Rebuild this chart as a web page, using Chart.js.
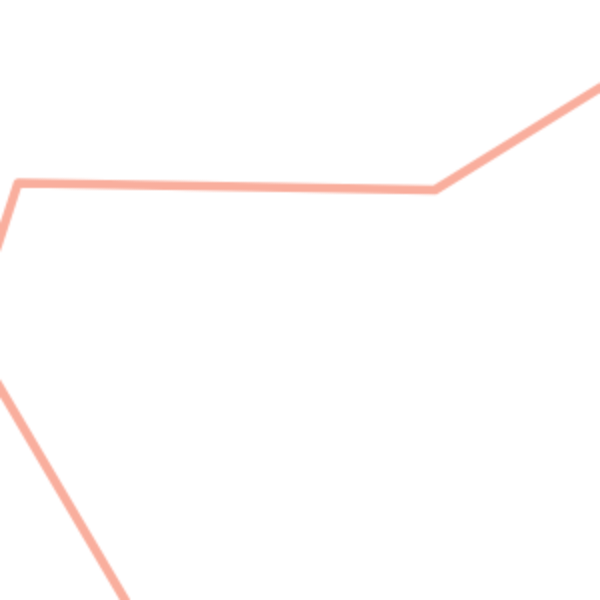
<!DOCTYPE html>
<html>
<head>
<meta charset="utf-8">
<script src="https://cdn.jsdelivr.net/npm/chart.js@4"></script>
<style>
  html, body { margin: 0; padding: 0; background: #fff; }
  #wrap { width: 600px; height: 600px; }
</style>
</head>
<body>
<div id="wrap"><canvas id="myChart" width="600" height="600"></canvas></div>
<script>
// x / y values of the line (the view only shows part of it)
const xValues = [14.5, 12.5, -3.16, 1.8, 43.5, 65.0];
const yValues = [-3.4, 0.0, 26.56, 41.7, 41.0, 54.3];

// visible window of the chart
const xRange = [0, 60];
const yRange = [0, 60];

function createLineChart() {
    const ctx = document.getElementById('myChart');
    const points = xValues.map((x, i) => ({ x: x, y: yValues[i] }));

    new Chart(ctx, {
        type: 'line',
        data: {
            datasets: [{
                data: points,
                borderColor: '#f9ae9d',
                borderWidth: 9,
                borderJoinStyle: 'round',
                pointRadius: 0,
                tension: 0,
                fill: false
            }]
        },
        options: {
            responsive: false,
            animation: false,
            devicePixelRatio: 0.5,
            layout: { padding: 0 },
            plugins: {
                legend: { display: false },
                tooltip: { enabled: false }
            },
            scales: {
                x: {
                    type: 'linear',
                    min: xRange[0],
                    max: xRange[1],
                    display: false
                },
                y: {
                    type: 'linear',
                    min: yRange[0],
                    max: yRange[1],
                    display: false
                }
            }
        }
    });
}

createLineChart();
</script>
</body>
</html>
